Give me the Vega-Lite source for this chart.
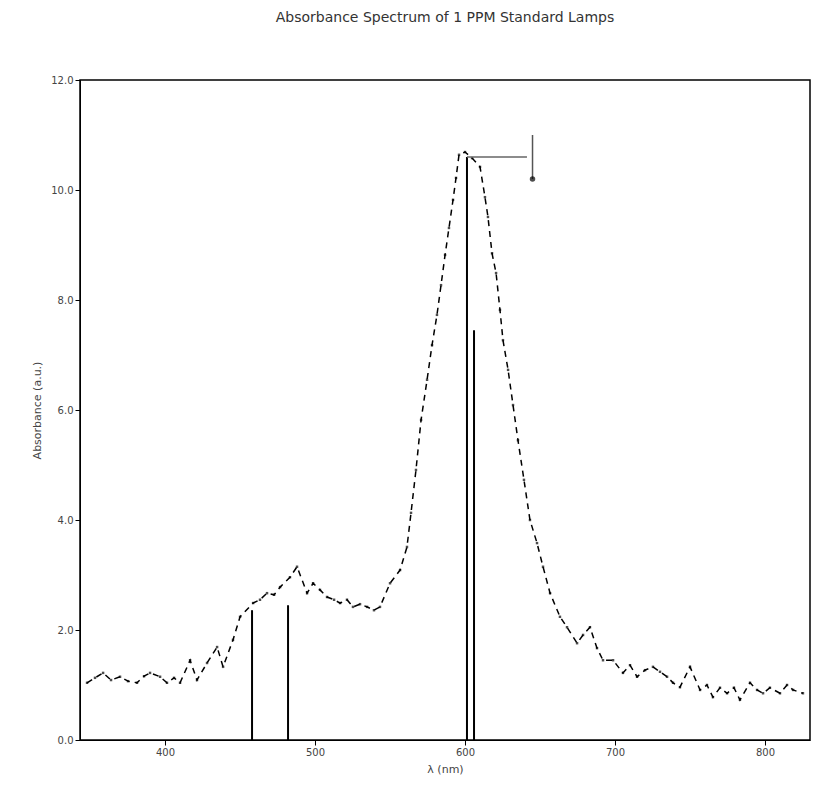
{
  "$schema": "https://vega.github.io/schema/vega-lite/v6.json",
  "width": 730,
  "height": 660,
  "autosize": {"type": "none"},
  "padding": {"left": 80, "top": 80, "right": 26, "bottom": 48},
  "background": "white",
  "title": {"text": "Absorbance Spectrum of 1 PPM Standard Lamps", "fontSize": 14, "font": "DejaVu Sans", "fontWeight": "normal", "color": "#333", "offset": 50, "anchor": "middle"},
  "config": {
    "view": {"stroke": "black", "strokeWidth": 1.5},
    "axis": {"domainColor": "black", "tickColor": "black", "labelColor": "#444", "titleColor": "#444", "labelFont": "DejaVu Sans", "titleFont": "DejaVu Sans", "labelFontSize": 10, "titleFontSize": 11, "titleFontWeight": "normal", "grid": false}
  },
  "datasets": {
    "curve": [
      {"x": 348, "y": 1.04}, {"x": 353.3, "y": 1.13}, {"x": 358.7, "y": 1.22}, {"x": 364, "y": 1.09}, {"x": 370, "y": 1.15},
      {"x": 375.3, "y": 1.07}, {"x": 381.3, "y": 1.04}, {"x": 386, "y": 1.16}, {"x": 390, "y": 1.22}, {"x": 396.7, "y": 1.15},
      {"x": 401.3, "y": 1.04}, {"x": 406, "y": 1.13}, {"x": 410, "y": 1.04}, {"x": 416.7, "y": 1.45}, {"x": 421.3, "y": 1.09},
      {"x": 428, "y": 1.40}, {"x": 434.7, "y": 1.69}, {"x": 438.7, "y": 1.33}, {"x": 445.3, "y": 1.82}, {"x": 450, "y": 2.24},
      {"x": 458.7, "y": 2.49}, {"x": 463.3, "y": 2.55}, {"x": 468, "y": 2.67}, {"x": 472.7, "y": 2.64}, {"x": 476.7, "y": 2.78},
      {"x": 483.3, "y": 2.96}, {"x": 488, "y": 3.15}, {"x": 494.7, "y": 2.67}, {"x": 498.7, "y": 2.85}, {"x": 503.3, "y": 2.73},
      {"x": 508, "y": 2.60}, {"x": 512.7, "y": 2.55}, {"x": 516.7, "y": 2.49}, {"x": 521.3, "y": 2.55}, {"x": 525.3, "y": 2.42},
      {"x": 530, "y": 2.47}, {"x": 534.7, "y": 2.42}, {"x": 539.3, "y": 2.36}, {"x": 543.3, "y": 2.42}, {"x": 550, "y": 2.85},
      {"x": 556.7, "y": 3.09}, {"x": 561.3, "y": 3.51}, {"x": 564, "y": 4.13}, {"x": 567.3, "y": 4.91}, {"x": 570.7, "y": 5.82},
      {"x": 574.7, "y": 6.55}, {"x": 578, "y": 7.18}, {"x": 581.3, "y": 7.73}, {"x": 584, "y": 8.27}, {"x": 586.7, "y": 8.82},
      {"x": 589.3, "y": 9.31}, {"x": 592, "y": 9.82}, {"x": 594, "y": 10.22}, {"x": 596, "y": 10.64}, {"x": 600, "y": 10.69},
      {"x": 604.7, "y": 10.58}, {"x": 610, "y": 10.42}, {"x": 613.3, "y": 9.87}, {"x": 615.3, "y": 9.51}, {"x": 618, "y": 8.85},
      {"x": 620.7, "y": 8.49}, {"x": 623.3, "y": 7.82}, {"x": 625.3, "y": 7.27}, {"x": 628.7, "y": 6.73}, {"x": 632, "y": 6.09},
      {"x": 635.3, "y": 5.45}, {"x": 639.3, "y": 4.73}, {"x": 643.3, "y": 4.0}, {"x": 648, "y": 3.58}, {"x": 652, "y": 3.15},
      {"x": 656.7, "y": 2.67}, {"x": 663.3, "y": 2.24}, {"x": 668, "y": 2.05}, {"x": 674.7, "y": 1.76}, {"x": 678.7, "y": 1.91},
      {"x": 683.3, "y": 2.05}, {"x": 688, "y": 1.67}, {"x": 692, "y": 1.45}, {"x": 698.7, "y": 1.45}, {"x": 705.3, "y": 1.22},
      {"x": 710, "y": 1.36}, {"x": 714.7, "y": 1.15}, {"x": 720, "y": 1.27}, {"x": 725.3, "y": 1.33}, {"x": 730, "y": 1.24},
      {"x": 734.7, "y": 1.15}, {"x": 738.7, "y": 1.04}, {"x": 743.3, "y": 0.96}, {"x": 750, "y": 1.33}, {"x": 756.7, "y": 0.91},
      {"x": 761.3, "y": 1.0}, {"x": 765.3, "y": 0.78}, {"x": 770, "y": 0.95}, {"x": 774.7, "y": 0.85}, {"x": 779.3, "y": 0.95},
      {"x": 783.3, "y": 0.73}, {"x": 790, "y": 1.04}, {"x": 794.7, "y": 0.91}, {"x": 798.7, "y": 0.85}, {"x": 803.3, "y": 0.95},
      {"x": 810, "y": 0.85}, {"x": 814.7, "y": 1.0}, {"x": 818.7, "y": 0.91}, {"x": 825.3, "y": 0.85}
    ],
    "lines": [
      {"x": 458.0, "y": 2.36, "y0": 0},
      {"x": 482.0, "y": 2.45, "y0": 0},
      {"x": 601.3, "y": 10.6, "y0": 0},
      {"x": 606.0, "y": 7.45, "y0": 0}
    ],
    "plateau": [
      {"x": 601.3, "x2": 641.3, "y": 10.6}
    ],
    "marker": [
      {"x": 645, "y": 10.7, "lo": 10.2, "hi": 11.0}
    ]
  },
  "layer": [
    {
      "data": {"name": "curve"},
      "mark": {"type": "line", "color": "black", "strokeWidth": 1.5, "strokeDash": [6, 5]},
      "encoding": {
        "x": {"field": "x", "type": "quantitative", "scale": {"domain": [343.3, 830], "nice": false, "zero": false}, "axis": {"values": [400, 500, 600, 700, 800], "title": "λ (nm)", "titlePadding": 6}},
        "y": {"field": "y", "type": "quantitative", "scale": {"domain": [0, 12], "nice": false}, "axis": {"values": [0, 2, 4, 6, 8, 10, 12], "title": "Absorbance (a.u.)", "titlePadding": 8}}
      }
    },
    {
      "data": {"name": "curve"},
      "mark": {"type": "point", "shape": "square", "color": "black", "size": 6, "filled": true},
      "encoding": {
        "x": {"field": "x", "type": "quantitative"},
        "y": {"field": "y", "type": "quantitative"}
      }
    },
    {
      "data": {"name": "lines"},
      "mark": {"type": "rule", "color": "black", "strokeWidth": 2},
      "encoding": {
        "x": {"field": "x", "type": "quantitative"},
        "y": {"field": "y", "type": "quantitative"},
        "y2": {"field": "y0"}
      }
    },
    {
      "data": {"name": "plateau"},
      "mark": {"type": "rule", "color": "#666", "strokeWidth": 1.5},
      "encoding": {
        "x": {"field": "x", "type": "quantitative"},
        "x2": {"field": "x2"},
        "y": {"field": "y", "type": "quantitative"}
      }
    },
    {
      "data": {"name": "marker"},
      "mark": {"type": "rule", "color": "#555", "strokeWidth": 1.5},
      "encoding": {
        "x": {"field": "x", "type": "quantitative"},
        "y": {"field": "lo", "type": "quantitative"},
        "y2": {"field": "hi"}
      }
    },
    {
      "data": {"name": "marker"},
      "mark": {"type": "point", "shape": "circle", "color": "black", "size": 30, "filled": true},
      "encoding": {
        "x": {"field": "x", "type": "quantitative"},
        "y": {"field": "lo", "type": "quantitative"}
      }
    }
  ]
}
